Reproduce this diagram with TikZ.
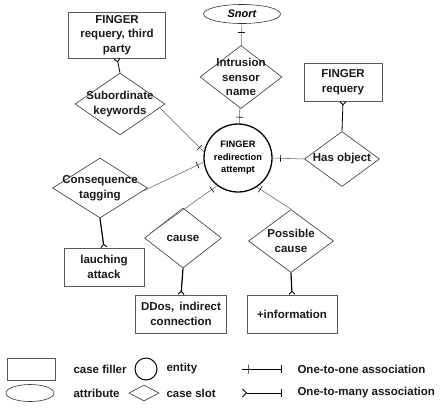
\documentclass[tikz,border=0pt]{standalone}
\usepackage{fontspec}
\setmainfont{Liberation Sans}
\usetikzlibrary{shapes.geometric, arrows.meta, calc}

\begin{document}
\begin{tikzpicture}[x=1pt, y=-1pt,
  txt/.style={font=\fontsize{11.5}{14.5}\selectfont\bfseries, align=center, text=black!90},
  legendtxt/.style={font=\fontsize{11.5}{14.5}\selectfont\bfseries, text=black!90, anchor=west},
  filler/.style={draw=black!65, line width=0.55pt, rectangle, inner sep=0pt, txt},
  slot/.style={draw=black!80, line width=0.6pt, diamond, inner sep=0pt},
  entity/.style={draw=black, line width=1.3pt, circle, inner sep=0pt,
    font=\fontsize{9.3}{12.5}\selectfont\bfseries, align=center},
  attr/.style={draw=black!80, line width=0.6pt, ellipse, inner sep=0pt,
    font=\fontsize{11}{13}\selectfont\bfseries\itshape},
  link/.style={draw=black!60, line width=0.55pt},
  strong/.style={draw=black, line width=1.2pt},
  medium/.style={draw=black, line width=0.8pt},
  crow/.style={-{Straight Barb[reversed, length=3pt, width=6pt, line width=0.9pt]}},
  tickmark/.style={draw=black, rectangle, minimum width=0pt, minimum height=7pt,
    inner sep=0pt, line width=0.6pt, sloped}
]
\useasboundingbox (0,0) rectangle (443,407);

% central entity
\node[entity, minimum size=68pt] (c) at (238,158) {FINGER\\redirection\\attempt};

% attribute and its slot
\node[attr, minimum width=77pt, minimum height=19pt] (e1) at (242,14) {Snort};
\node[slot, minimum width=82pt, minimum height=63pt,
  label={[txt]center:Intrusion\\sensor\\name}] (d2) at (241,77) {};

% case slots
\node[slot, minimum width=90pt, minimum height=62pt,
  label={[txt]center:Subordinate\\keywords}] (d1) at (120,104) {};
\node[slot, minimum width=75pt, minimum height=55pt,
  label={[txt]center:Has object}] (d3) at (342,159) {};
\node[slot, minimum width=95pt, minimum height=60pt,
  label={[txt]center:Consequence\\tagging}] (d4) at (100,188) {};
\node[slot, minimum width=77pt, minimum height=60pt,
  label={[txt]center:cause}] (d5) at (183,238) {};
\node[slot, minimum width=85pt, minimum height=63pt,
  label={[txt]center:Possible\\cause}] (d6) at (291,241) {};

% case fillers
\node[filler, minimum width=97pt, minimum height=46pt] (b1) at (117,35) {FINGER\\requery, third\\party};
\node[filler, minimum width=78pt, minimum height=38pt] (b2) at (343,82) {FINGER\\requery};
\node[filler, minimum width=80pt, minimum height=38pt] (b3) at (104,267) {lauching\\attack};
\node[filler, minimum width=91pt, minimum height=38pt] (b4) at (181,314) {DDos, \,indirect\\connection};
\node[filler, minimum width=90pt, minimum height=38pt] (b5) at (292,314) {+information};

% associations with the entity
\draw[link] (e1) -- node[tickmark, pos=0.4] (t1) {} (d2);
\draw[link] (d2) -- node[tickmark, pos=0.6] (t2) {} (c);
\draw[link] ($(d1.east)!0.12!(d1.south)$) -- node[tickmark, pos=0.9] (t3) {} (c.170);
\draw[link] ($(d4.east)!0.1!(d4.south)$) -- node[tickmark, pos=0.9] (t4) {} (c.187);
\draw[link] (d3.west) -- node[tickmark, pos=0.75] (t5) {} (c.east);
\draw[link] (c.233) -- node[tickmark, pos=0.08] (t6) {} ($(d5.west)!0.15!(d5.north)$);
\draw[link] (c.303) -- node[tickmark, pos=0.1] (t7) {} (d6.north);

% slots to their fillers
\draw[medium, crow] (d1.north) -- (b1.south);
\draw[medium, crow] (d3.north) -- (b2.south);
\draw[strong, crow] (d4.south) -- (b3.north);
\draw[strong, crow] (d5.south) -- (b4.north);
\draw[strong, crow] (d6.south) -- (b5.north);

% legend
\node[filler, minimum width=48pt, minimum height=22pt] (lf) at (31,369) {};
\node[legendtxt] (lft) at (70,369) {case filler};
\node[entity, minimum size=22pt, line width=1pt] (le) at (146,369) {};
\node[legendtxt] (let) at (163,369) {entity};
\coordinate (l1a) at (242,369);
\coordinate (l1b) at (282,369);
\draw[strong, line width=1pt, -{Bar[width=8pt]}] (l1a) -- node[tickmark, pos=0.15, minimum height=9pt] (t8) {} (l1b);
\node[legendtxt] (l1t) at (294,369) {One-to-one association};

\node[attr, minimum width=48pt, minimum height=17pt] (la) at (30,393) {};
\node[legendtxt] (lat) at (70,393) {attribute};
\node[slot, minimum width=30pt, minimum height=16pt] (ls) at (144,393) {};
\node[legendtxt] (lst) at (163,393) {case slot};
\coordinate (l2a) at (242,393);
\coordinate (l2b) at (282,393);
\draw[strong, line width=1pt, {Straight Barb[reversed, length=4pt, width=8pt]}-{Bar[width=8pt]}] (l2a) -- (l2b);
\node[legendtxt] (l2t) at (294,393) {One-to-many association};
\end{tikzpicture}
\end{document}
